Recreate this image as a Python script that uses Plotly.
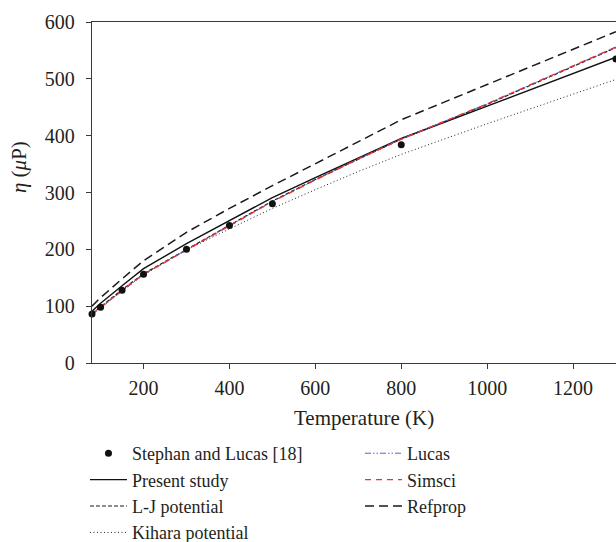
import plotly.graph_objects as go

# ---- data ----
T_exp = [80, 100, 150, 200, 300, 400, 500, 800, 1300]
eta_exp = [86, 98, 128, 156, 200, 242, 280, 384, 535]

T_model = [80, 100, 150, 200, 300, 400, 500, 600, 700, 800, 1000, 1300]
eta_present = [91, 105, 136, 166, 210, 250, 291, 326, 360, 395, 452, 538]
eta_lj = [87, 99, 129, 157, 200, 242, 285, 323, 359, 394, 455, 555]
eta_kihara = [86, 98, 127, 155, 199, 236, 272, 305, 337, 367, 421, 499]
eta_lucas = [85, 97, 127, 156, 199, 241, 284, 322, 359, 394, 456, 556]
eta_simsci = [86, 98, 128, 156, 199, 241, 284, 322, 359, 394, 456, 556]
eta_refprop = [100, 115, 148, 180, 230, 272, 312, 351, 390, 428, 490, 583]

x_ticks = [200, 400, 600, 800, 1000, 1200]
y_ticks = [0, 100, 200, 300, 400, 500, 600]

FONT = "Liberation Serif"
TXT = "#231f20"

fig = go.Figure()

# draw order: back to front; left legend column = "legend", right column = "legend2"
fig.add_trace(go.Scatter(x=T_model, y=eta_kihara, mode="lines", name="Kihara potential",
                         line=dict(color="#222222", width=1, dash="1px,2.5px"),
                         legend="legend", legendrank=4))
fig.add_trace(go.Scatter(x=T_model, y=eta_refprop, mode="lines", name="Refprop",
                         line=dict(color="#1a1a1a", width=1.5, dash="9px,5px"),
                         legend="legend2", legendrank=3))
fig.add_trace(go.Scatter(x=T_model, y=eta_present, mode="lines", name="Present study",
                         line=dict(color="#111111", width=1.4),
                         legend="legend", legendrank=2))
fig.add_trace(go.Scatter(x=T_model, y=eta_lj, mode="lines", name="L-J potential",
                         line=dict(color="#1a1a1a", width=1.2, dash="4px,2px"),
                         legend="legend", legendrank=3))
fig.add_trace(go.Scatter(x=T_model, y=eta_lucas, mode="lines", name="Lucas",
                         line=dict(color="#4a6cc4", width=1, dash="6px,2px,1.5px,2px,1.5px,2px"),
                         legend="legend2", legendrank=1))
fig.add_trace(go.Scatter(x=T_model, y=eta_simsci, mode="lines", name="Simsci",
                         line=dict(color="#ec2f38", width=1.4, dash="6px,5px"),
                         legend="legend2", legendrank=2))
fig.add_trace(go.Scatter(x=T_exp, y=eta_exp, mode="markers", name="Stephan and Lucas [18]",
                         marker=dict(color="#111111", size=7), cliponaxis=False,
                         legend="legend", legendrank=1))

axis_common = dict(
    showline=True, linecolor="#3a3a3a", linewidth=1.3, mirror=True,
    ticks="outside", ticklen=5, tickwidth=1.2, tickcolor="#3a3a3a",
    showgrid=False, zeroline=False,
    tickfont=dict(family=FONT, size=20, color=TXT),
)

legend_common = dict(
    orientation="v", yanchor="top", y=-0.2112, xanchor="left",
    itemwidth=37, font=dict(family=FONT, size=18, color=TXT),
    bgcolor="rgba(0,0,0,0)", traceorder="normal",
)

fig.update_layout(
    width=616, height=542,
    margin=dict(l=92, r=0, t=22, b=179, autoexpand=False),
    paper_bgcolor="white", plot_bgcolor="white",
    xaxis=dict(range=[80, 1300], tickvals=x_ticks, ticklabelstandoff=2, **axis_common),
    yaxis=dict(range=[0, 600], tickvals=y_ticks, ticklabelstandoff=7, **axis_common),
    showlegend=True,
    legend=dict(x=-0.0134, **legend_common),
    legend2=dict(x=0.5115, **legend_common),
    annotations=[
        dict(text="Temperature (K)", xref="paper", yref="paper", x=0.519, y=-0.161,
             xanchor="center", yanchor="middle", showarrow=False,
             font=dict(family=FONT, size=21, color=TXT)),
        dict(text="<i>η</i> (<i>μ</i>P)", xref="paper", yref="paper", x=-0.139, y=0.575,
             xanchor="center", yanchor="middle", textangle=-90, showarrow=False,
             font=dict(family=FONT, size=21, color=TXT)),
    ],
)

fig.write_html("out.html", config={"displayModeBar": False},
               post_script="document.body.style.margin='0';")
